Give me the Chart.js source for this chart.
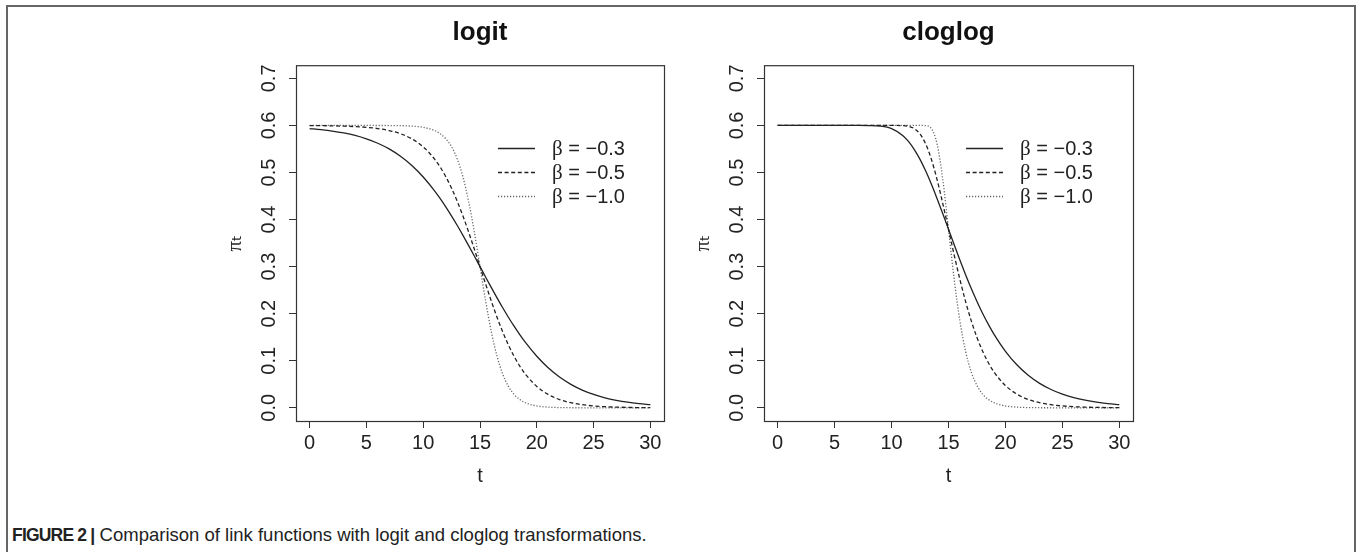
<!DOCTYPE html>
<html>
<head>
<meta charset="utf-8">
<script src="https://cdn.jsdelivr.net/npm/chart.js@4.4.1/dist/chart.umd.min.js"></script>
<style>
html,body{margin:0;padding:0;background:#fff;}
body{width:1357px;height:552px;position:relative;overflow:hidden;font-family:"Liberation Sans",Arial,sans-serif;}
#frame{position:absolute;left:6px;top:5px;width:1350px;height:700px;border:2px solid #666;box-sizing:border-box;}
.wrap{position:absolute;top:0;width:500px;height:500px;}
#caption{position:absolute;left:12px;top:524px;font-size:18.5px;color:#222;white-space:nowrap;}
#caption b{font-weight:bold;font-size:17.5px;letter-spacing:-0.8px;}
</style>
</head>
<body>
<div id="frame"></div>
<div class="wrap" style="left:180px"><canvas id="c1" width="500" height="500"></canvas></div>
<div class="wrap" style="left:648px"><canvas id="c2" width="500" height="500"></canvas></div>
<div id="caption"><b>FIGURE 2 |</b> Comparison of link functions with logit and cloglog transformations.</div>
<script>
// ---- data ----
const tValues = [0,1,2,3,4,5,6,7,8,9,10,11,11.5,12,12.5,13,13.5,14,14.5,15,15.5,16,16.5,17,17.5,18,18.5,19,20,21,22,23,24,25,26,27,28,29,30];

const logitB03 = [0.5934,0.5911,0.5881,0.5840,0.5787,0.5715,0.5622,0.5501,0.5345,0.5149,0.4905,0.4611,0.4445,0.4266,0.4075,0.3874,0.3664,0.3447,0.3225,0.3000,0.2775,0.2553,0.2336,0.2126,0.1925,0.1734,0.1555,0.1389,0.1095,0.0851,0.0655,0.0499,0.0378,0.0285,0.0213,0.0160,0.0119,0.0089,0.0066];
const logitB05 = [0.5997,0.5995,0.5991,0.5985,0.5976,0.5960,0.5934,0.5892,0.5824,0.5715,0.5545,0.5285,0.5112,0.4905,0.4664,0.4386,0.4075,0.3735,0.3373,0.3000,0.2627,0.2265,0.1925,0.1614,0.1336,0.1095,0.0888,0.0715,0.0455,0.0285,0.0176,0.0108,0.0066,0.0040,0.0024,0.0015,0.0009,0.0005,0.0003];
const logitB10 = [0.6000,0.6000,0.6000,0.6000,0.6000,0.6000,0.5999,0.5998,0.5995,0.5985,0.5960,0.5892,0.5824,0.5715,0.5545,0.5285,0.4905,0.4386,0.3735,0.3000,0.2265,0.1614,0.1095,0.0715,0.0455,0.0285,0.0176,0.0108,0.0040,0.0015,0.0005,0.0002,0.0001,0.0000,0.0000,0.0000,0.0000,0.0000,0.0000];

const cloglogB03 = [0.6000,0.6000,0.6000,0.6000,0.6000,0.6000,0.6000,0.6000,0.5998,0.5986,0.5932,0.5783,0.5656,0.5487,0.5278,0.5030,0.4750,0.4444,0.4123,0.3793,0.3463,0.3140,0.2829,0.2534,0.2259,0.2004,0.1772,0.1560,0.1200,0.0914,0.0692,0.0520,0.0390,0.0291,0.0217,0.0162,0.0120,0.0089,0.0066];
const cloglogB05 = [0.6000,0.6000,0.6000,0.6000,0.6000,0.6000,0.6000,0.6000,0.6000,0.6000,0.6000,0.5996,0.5981,0.5932,0.5817,0.5604,0.5278,0.4846,0.4338,0.3793,0.3246,0.2729,0.2259,0.1847,0.1495,0.1200,0.0957,0.0759,0.0473,0.0291,0.0178,0.0109,0.0066,0.0040,0.0024,0.0015,0.0009,0.0005,0.0003];
const cloglogB10 = [0.6000,0.6000,0.6000,0.6000,0.6000,0.6000,0.6000,0.6000,0.6000,0.6000,0.6000,0.6000,0.6000,0.6000,0.6000,0.5996,0.5932,0.5604,0.4846,0.3793,0.2729,0.1847,0.1200,0.0759,0.0473,0.0291,0.0178,0.0109,0.0040,0.0015,0.0005,0.0002,0.0001,0.0000,0.0000,0.0000,0.0000,0.0000,0.0000];

const seriesLabels = ['β = −0.3', 'β = −0.5', 'β = −1.0'];
const panelTitles = ['logit', 'cloglog'];
const xTicks = [0,5,10,15,20,25,30];
const xTickLabels = ['0','5','10','15','20','25','30'];
const yTicks = [0,0.1,0.2,0.3,0.4,0.5,0.6,0.7];
const yTickLabels = ['0.0','0.1','0.2','0.3','0.4','0.5','0.6','0.7'];
const xTitle = 't';
const yTitle = 'πₜ';

// ---- styles ----
const lineStyles = [
  {borderColor:'#222', borderWidth:1.3, borderDash:[]},
  {borderColor:'#222', borderWidth:1.3, borderDash:[4,2.6]},
  {borderColor:'#666', borderWidth:1.3, borderDash:[1.2,1.8]}
];
const SANS = '"Liberation Sans", Arial, Helvetica, sans-serif';

const boxPlugin = {
  id: 'rbox',
  afterDraw(chart) {
    const {ctx, chartArea:a} = chart;
    ctx.save();
    ctx.strokeStyle = '#333';
    ctx.lineWidth = 1.2;
    ctx.setLineDash([]);
    ctx.strokeRect(a.left + 0.5, a.top + 0.5, a.right - a.left, a.bottom - a.top);
    ctx.restore();
  }
};

const legendPlugin = {
  id: 'rlegend',
  afterDatasetsDraw(chart, args, opts) {
    const {ctx, chartArea:a} = chart;
    ctx.save();
    chart.data.datasets.forEach((ds, i) => {
      const y = Math.round(a.top + opts.y0 + i * opts.dy) + 0.5;
      ctx.beginPath();
      ctx.setLineDash(ds.borderDash || []);
      ctx.strokeStyle = ds.borderColor;
      ctx.lineWidth = ds.borderWidth;
      ctx.moveTo(a.left + opts.x0, y);
      ctx.lineTo(a.left + opts.x1, y);
      ctx.stroke();
      ctx.setLineDash([]);
      ctx.fillStyle = '#222';
      ctx.textBaseline = 'middle';
      ctx.textAlign = 'left';
      const lab = ds.label;
      const first = lab.charAt(0);
      const rest = lab.slice(1);
      let x = a.left + opts.xt;
      ctx.font = '21px "Liberation Serif", "DejaVu Serif", serif';
      ctx.fillText(first, x, y + 1);
      x += ctx.measureText(first).width;
      ctx.font = '20px ' + SANS;
      ctx.fillText(rest, x, y + 1);
    });
    ctx.restore();
  }
};

function makeChart(id, title, series, padRight) {
  const datasets = series.map((arr, i) => Object.assign({
    label: seriesLabels[i],
    data: tValues.map((t, k) => ({x: t, y: arr[k]})),
    pointRadius: 0,
    fill: false,
    cubicInterpolationMode: 'monotone'
  }, lineStyles[i]));
  return new Chart(document.getElementById(id), {
    type: 'line',
    data: {datasets},
    options: {
      responsive: false,
      animation: false,
      devicePixelRatio: 1,
      events: [],
      layout: {padding: {left: 0, right: padRight, top: 0, bottom: 0}},
      plugins: {
        legend: {display: false},
        tooltip: {enabled: false},
        title: {
          display: true, text: title, fullSize: false,
          color: '#111',
          font: {family: SANS, size: 26, weight: 'bold', lineHeight: 1.2},
          padding: {top: 17, bottom: 17}
        },
        rlegend: {x0: 202, x1: 239, xt: 256, y0: 83, dy: 24}
      },
      scales: {
        x: {
          type: 'linear', min: -1.2, max: 31.2,
          afterBuildTicks: s => { s.ticks = xTicks.map(v => ({value: v})); },
          afterFit: s => { s.height = 79; },
          ticks: {
            autoSkip: false, maxRotation: 0, minRotation: 0, padding: 3,
            color: '#222', font: {family: SANS, size: 20},
            callback: (v, i) => xTickLabels[i]
          },
          grid: {display: true, drawOnChartArea: false, drawTicks: true, tickLength: 7, color: '#333', lineWidth: 1},
          border: {display: false},
          title: {display: true, text: xTitle, color: '#222', font: {family: SANS, size: 20}, padding: {top: 0, bottom: 12}}
        },
        y: {
          type: 'linear', min: -0.028, max: 0.728,
          afterBuildTicks: s => { s.ticks = yTicks.map(v => ({value: v})); },
          afterFit: s => { s.width = 116; },
          ticks: {
            autoSkip: false, minRotation: 90, maxRotation: 90, crossAlign: 'center', padding: 6,
            color: '#222', font: {family: SANS, size: 20},
            callback: (v, i) => yTickLabels[i]
          },
          grid: {display: true, drawOnChartArea: false, drawTicks: true, tickLength: 7, color: '#333', lineWidth: 1},
          border: {display: false},
          title: {display: true, text: yTitle, color: '#222', font: {family: '"Liberation Serif", "DejaVu Sans", serif', size: 21}, padding: {top: 43, bottom: 0}}
        }
      }
    },
    plugins: [boxPlugin, legendPlugin]
  });
}

makeChart('c1', panelTitles[0], [logitB03, logitB05, logitB10], 16);
makeChart('c2', panelTitles[1], [cloglogB03, cloglogB05, cloglogB10], 15);
</script>
</body>
</html>
